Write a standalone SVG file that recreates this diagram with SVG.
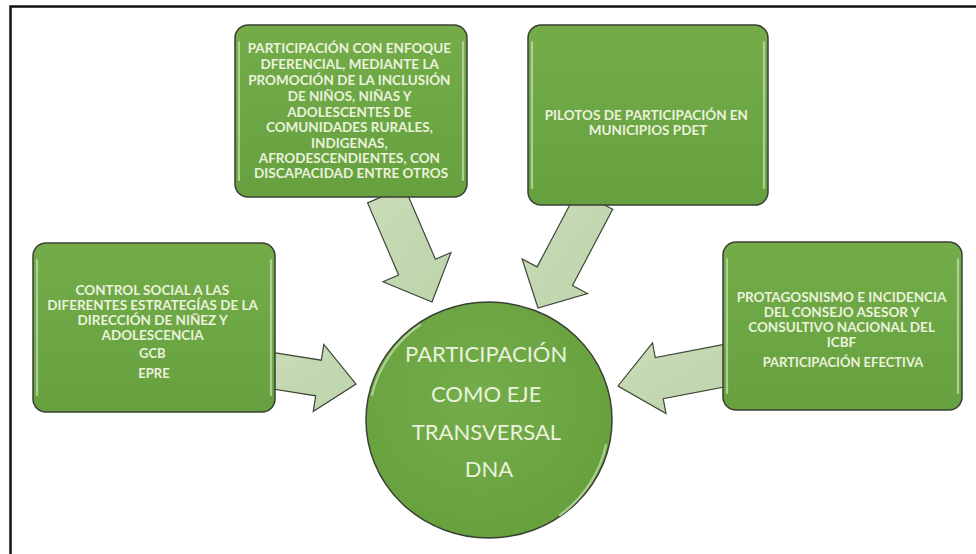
<svg xmlns="http://www.w3.org/2000/svg" width="976" height="554" viewBox="0 0 976 554">
<defs>
<linearGradient id="gBox" x1="0" y1="0" x2="0" y2="1">
<stop offset="0" stop-color="#74AC4A"/>
<stop offset="0.5" stop-color="#6DA644"/>
<stop offset="1" stop-color="#67A03E"/>
</linearGradient>
<radialGradient id="gCirc" cx="0.45" cy="0.4" r="0.65">
<stop offset="0" stop-color="#74AC4A"/>
<stop offset="1" stop-color="#66A03D"/>
</radialGradient>
<linearGradient id="gArr" x1="0" y1="0" x2="1" y2="1">
<stop offset="0" stop-color="#C9DCB8"/>
<stop offset="1" stop-color="#BDD4AA"/>
</linearGradient>
</defs>
<style>
.box{fill:url(#gBox);stroke:#3A3F36;stroke-width:1.5}
.hl{fill:none;stroke:#B9D89F;stroke-width:2.2;stroke-linecap:round;opacity:0.85}
.arr{fill:url(#gArr);stroke:#3E4639;stroke-width:1.2;stroke-linejoin:miter}
.t{font-family:Lato,"Open Sans","Liberation Sans",sans-serif;font-weight:bold;font-size:13.5px;fill:#EAF2DC;text-anchor:middle}
.c{font-family:Lato,"Open Sans","Liberation Sans",sans-serif;font-size:22px;fill:#EAF2DC;text-anchor:middle}
</style>
<rect x="0" y="0" width="976" height="554" fill="#FFFFFF"/>
<rect x="10.5" y="6.5" width="1000" height="600" fill="none" stroke="#111" stroke-width="2.5"/>

<g id="connectors">
<polygon class="arr" points="270.8,352.2 321.3,360.2 323.8,344.4 356,384 313.2,411.6 315.7,395.8 265.2,387.8"/>
<polygon class="arr" points="404.4,187.1 435.4,259.2 451.0,252.5 432,302 383.0,281.7 398.6,275.0 367.6,202.9"/>
<polygon class="arr" points="577.3,190.7 537.1,266.9 522.1,258.9 538,308 587.5,293.5 572.5,285.5 612.7,209.3"/>
<polygon class="arr" points="724.1,344.4 655.3,357.5 652.5,342.8 618,386 666.0,413.5 663.2,398.7 731.9,385.6"/>
</g>

<g id="node-top-center">
<rect class="box" x="235" y="25" width="232" height="172" rx="13"/>
<path class="hl" d="M239,42 V180 M463,42 V180"/>
<text class="t">
<tspan x="351" y="53">PARTICIPACIÓN CON ENFOQUE</tspan>
<tspan x="351" y="69">DFERENCIAL, MEDIANTE LA</tspan>
<tspan x="351" y="85">PROMOCIÓN DE LA INCLUSIÓN</tspan>
<tspan x="351" y="100.5">DE NIÑOS, NIÑAS Y</tspan>
<tspan x="351" y="116.5">ADOLESCENTES  DE</tspan>
<tspan x="351" y="132">COMUNIDADES RURALES,</tspan>
<tspan x="351" y="147.5">INDIGENAS,</tspan>
<tspan x="351" y="162.5">AFRODESCENDIENTES, CON</tspan>
<tspan x="351" y="178">DISCAPACIDAD ENTRE OTROS</tspan>
</text>
</g>

<g id="node-top-right">
<rect class="box" x="528" y="25" width="240" height="180" rx="13"/>
<path class="hl" d="M532,42 V188 M764,42 V188"/>
<text class="t">
<tspan x="648" y="120">PILOTOS DE PARTICIPACIÓN EN</tspan>
<tspan x="648" y="135">MUNICIPIOS PDET</tspan>
</text>
</g>

<g id="node-left">
<rect class="box" x="33" y="243" width="242" height="169" rx="13"/>
<path class="hl" d="M37,260 V395 M271,260 V395"/>
<text class="t">
<tspan x="154" y="295">CONTROL SOCIAL A LAS</tspan>
<tspan x="154" y="310">DIFERENTES ESTRATEGÍAS DE LA</tspan>
<tspan x="154" y="325">DIRECCIÓN DE NIÑEZ Y</tspan>
<tspan x="154" y="340">ADOLESCENCIA</tspan>
<tspan x="154" y="358" font-size="13">GCB</tspan>
<tspan x="154" y="378" font-size="13">EPRE</tspan>
</text>
</g>

<g id="node-right">
<rect class="box" x="723" y="242" width="239" height="168" rx="13"/>
<path class="hl" d="M727,259 V393 M958,259 V393"/>
<text class="t">
<tspan x="843" y="302">PROTAGOSNISMO  E INCIDENCIA</tspan>
<tspan x="843" y="317">DEL CONSEJO ASESOR Y</tspan>
<tspan x="843" y="332">CONSULTIVO NACIONAL DEL</tspan>
<tspan x="843" y="347">ICBF</tspan>
<tspan x="843" y="367" font-size="13">PARTICIPACIÓN EFECTIVA</tspan>
</text>
</g>

<g id="node-center">
<ellipse cx="489" cy="420" rx="123" ry="118" fill="url(#gCirc)" stroke="#3A3F36" stroke-width="1.5"/>
<path class="hl" d="M372,395 A118,118 0 0,1 420,325 M606,445 A118,118 0 0,1 560,515"/>
<text class="c">
<tspan x="489" y="362">PARTICIPACIÓN</tspan>
<tspan x="489" y="402">COMO EJE</tspan>
<tspan x="489" y="440">TRANSVERSAL</tspan>
<tspan x="489" y="477">DNA</tspan>
</text>
</g>
</svg>
